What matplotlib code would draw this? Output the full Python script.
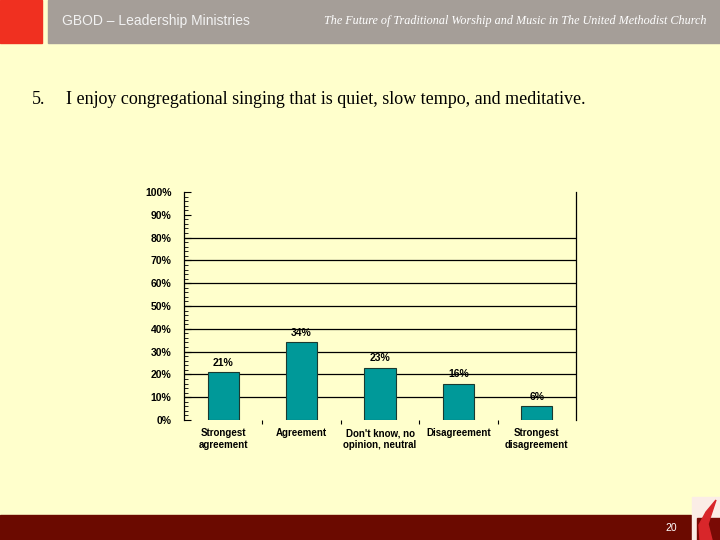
import matplotlib.pyplot as plt
from matplotlib.patches import Rectangle, Polygon
from matplotlib.ticker import MultipleLocator, FixedLocator

# survey answers for question 5
categories = ["Strongest\nagreement", "Agreement", "Don't know, no\nopinion, neutral",
              "Disagreement", "Strongest\ndisagreement"]
values = [21, 34, 23, 16, 6]
yticks = [0, 10, 20, 30, 40, 50, 60, 70, 80, 90, 100]
gridlines = [10, 20, 30, 40, 50, 60, 70, 80]

bg = "#FFFFCC"
fig = plt.figure(figsize=(7.2, 5.4), dpi=100, facecolor=bg)
W, H = 720.0, 540.0


def px_rect(x0, y0, w, h, color, z=1):
    # rectangle given in pixel coords, y measured from the top
    fig.patches.append(Rectangle((x0 / W, 1 - (y0 + h) / H), w / W, h / H,
                                 transform=fig.transFigure, color=color, zorder=z))


# header / footer bands
px_rect(48, 0, 672, 43, "#A59E98", 0)
px_rect(0, 0, 42, 43, "#F03020", 1)
px_rect(0, 515, 691, 25, "#6B0A00", 0)

# small logo bottom right
px_rect(692, 497, 28, 43, "#FBEDE6", 1)
px_rect(697, 518, 23, 22, "#7A0A05", 2)
flame = [(700, 540), (699, 525), (706, 512), (716, 500), (712, 512), (708, 524), (712, 540)]
fig.patches.append(Polygon([(a / W, 1 - b / H) for a, b in flame], closed=True,
                           transform=fig.transFigure, color="#D8262A", zorder=3))

fig.text(62 / W, 1 - 21 / H, "GBOD \u2013 Leadership Ministries", color="#F2F2F2",
         fontsize=10, family="Liberation Sans", va="center")
fig.text(706 / W, 1 - 21 / H, "The Future of Traditional Worship and Music in The United Methodist Church",
         color="white", fontsize=8.7, family="Liberation Serif", style="italic", va="center", ha="right")
fig.text(671 / W, 12 / H, "20", color="white", fontsize=7.5, family="Liberation Sans",
         ha="center", va="center")

fig.text(32 / W, 1 - 100 / H, "5.", fontsize=13, family="Liberation Serif", va="center")
fig.text(66 / W, 1 - 100 / H,
         "I enjoy congregational singing that is quiet, slow tempo, and meditative.",
         fontsize=13, family="Liberation Serif", va="center")

ax = fig.add_axes([184 / W, 1 - 420 / H, 392 / W, 228 / H])
ax.set_facecolor(bg)
x = range(len(values))
ax.bar(x, values, width=0.4, color="#009999", edgecolor="#1a3a30", linewidth=0.8, zorder=3)
for g in gridlines:
    ax.axhline(g, color="black", linewidth=0.9, zorder=1)
for i, v in enumerate(values):
    ax.text(i, v + 2, f"{v}%", ha="center", va="bottom", fontsize=7.5,
            fontweight="bold", family="Liberation Sans")

ax.set_xlim(-0.5, len(values) - 0.5)
ax.set_ylim(0, 100)
ax.set_yticks(yticks)
ax.set_yticklabels([f"{t}%" for t in yticks], fontsize=7.5, fontweight="bold", family="Liberation Sans")
ax.yaxis.set_minor_locator(MultipleLocator(2))
ax.tick_params(axis="y", which="major", direction="in", length=5, width=0.8, pad=9)
ax.tick_params(axis="y", which="minor", direction="in", length=3, width=0.6)

ax.set_xticks(list(x))
ax.set_xticklabels(categories, fontsize=7, fontweight="bold", family="Liberation Sans", linespacing=1.15)
ax.tick_params(axis="x", which="major", length=0, pad=6)
ax.xaxis.set_minor_locator(FixedLocator([0.5, 1.5, 2.5, 3.5]))
ax.tick_params(axis="x", which="minor", direction="out", length=3, width=0.8)

ax.spines["top"].set_visible(False)
ax.spines["bottom"].set_visible(False)
ax.spines["left"].set_linewidth(0.9)
ax.spines["right"].set_linewidth(0.9)

plt.savefig("out.png", dpi=100, facecolor=bg)
